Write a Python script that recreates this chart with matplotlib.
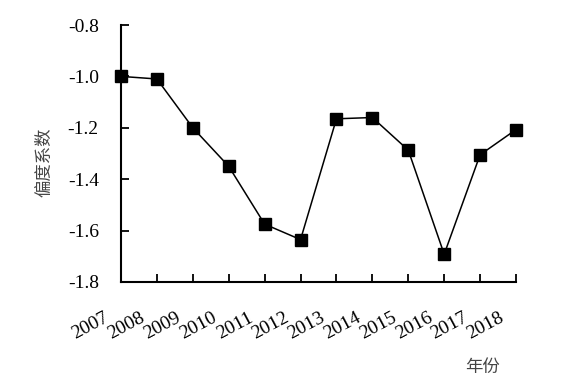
import matplotlib
matplotlib.use("Agg")
import matplotlib.pyplot as plt
from matplotlib.transforms import ScaledTranslation

years = ["2007", "2008", "2009", "2010", "2011", "2012", "2013", "2014", "2015", "2016", "2017", "2018"]
skew = [-1.00, -1.01, -1.20, -1.35, -1.575, -1.635, -1.165, -1.16, -1.287, -1.692, -1.305, -1.207]
yticks = [-0.8, -1.0, -1.2, -1.4, -1.6, -1.8]

plt.rcParams['font.family'] = 'serif'
plt.rcParams['font.serif'] = ['Liberation Serif', 'DejaVu Serif']

fig = plt.figure(figsize=(5.74, 3.91), dpi=100)
ax = fig.add_axes([121/574, 1-282/391, (516-121)/574, (282-25)/391])

x = list(range(len(years)))
ax.plot(x, skew, color='black', linewidth=1.1, marker='s', markersize=9,
        markerfacecolor='black', markeredgecolor='black', clip_on=False, zorder=3)

ax.set_xlim(0, len(years)-1)
ax.set_ylim(-1.8, -0.8)
ax.set_yticks(yticks)
ax.set_yticklabels([f"{v:.1f}" for v in yticks], fontsize=14, family='Liberation Serif')
ax.set_xticks(x)
ax.set_xticklabels([])

# rotated year labels, offset left/down from each tick
off = ScaledTranslation(-17/100, -27/100, fig.dpi_scale_trans)
trans = ax.get_xaxis_transform() + off
for xi, yr in zip(x, years):
    ax.text(xi, 0, yr, transform=trans, fontsize=14, family='Liberation Serif',
            rotation=28, ha='right', va='top', rotation_mode='anchor', clip_on=False)

ax.tick_params(axis='both', direction='in', length=6, width=1.3, colors='black')
ax.tick_params(axis='y', pad=16)
for s in ['top', 'right']:
    ax.spines[s].set_visible(False)
for s in ['left', 'bottom']:
    ax.spines[s].set_linewidth(1.5)

fig.text(44/574, 1-162/391, "偏度系数", rotation=90, ha='center', va='center',
         fontsize=12.5, family=['Noto Sans CJK SC'], color='#444444', fontweight='light')
fig.text(483/574, 1-367/391, "年份", ha='center', va='center',
         fontsize=12.5, family=['Noto Sans CJK SC'], color='#444444', fontweight='light')

fig.savefig("out.png", dpi=100)
